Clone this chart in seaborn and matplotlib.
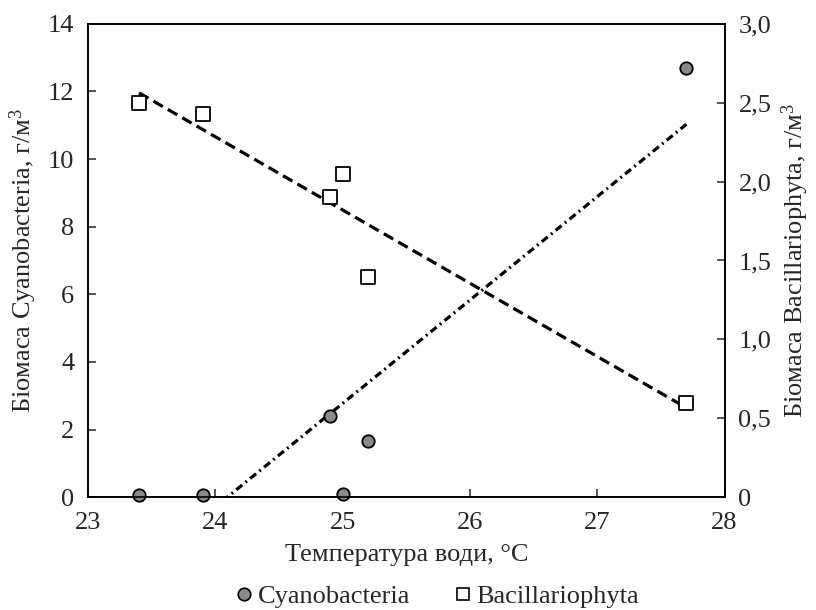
import matplotlib
matplotlib.use("Agg")
import matplotlib.pyplot as plt
import seaborn as sns
import numpy as np
import pandas as pd
from matplotlib.lines import Line2D

# Data
temperature = [23.4, 23.9, 24.9, 25.0, 25.2, 27.7]
cyanobacteria = [0.05, 0.05, 2.4, 0.1, 1.65, 12.7]
bacillariophyta = [2.50, 2.43, 1.90, 2.05, 1.395, 0.596]
left_ticks = [0, 2, 4, 6, 8, 10, 12, 14]
right_ticks = [0, 0.5, 1.0, 1.5, 2.0, 2.5, 3.0]
right_tick_labels = ["0", "0,5", "1,0", "1,5", "2,0", "2,5", "3,0"]
x_ticks = [23, 24, 25, 26, 27, 28]

df = pd.DataFrame({"t": temperature, "cy": cyanobacteria, "ba": bacillariophyta})

sns.set_style("ticks")
plt.rcParams["font.family"] = ["Liberation Serif", "DejaVu Serif"]
plt.rcParams["mathtext.fontset"] = "custom"
plt.rcParams["mathtext.rm"] = "Liberation Serif"
plt.rcParams["mathtext.it"] = "Liberation Serif"

FS = 19
fig = plt.figure(figsize=(8.16, 6.10), dpi=100)
ax = fig.add_axes([0.108, 0.185, 0.780, 0.776])
ax2 = ax.twinx()

# regression lines
sns.regplot(data=df, x="t", y="cy", ax=ax, scatter=False, ci=None, truncate=True,
            line_kws=dict(color="black", lw=2.3, ls=(0, (2.4, 1.3, 0.6, 1.3))))
sns.regplot(data=df, x="t", y="ba", ax=ax2, scatter=False, ci=None, truncate=True,
            line_kws=dict(color="black", lw=2.3, ls=(0, (3.4, 1.8))))

# points
sns.scatterplot(data=df, x="t", y="cy", ax=ax, marker="o", s=80, color="#8a8a8a",
                edgecolor="black", linewidth=1.3, clip_on=False, zorder=5, legend=False)
sns.scatterplot(data=df, x="t", y="ba", ax=ax2, marker="s", s=95, color="white",
                edgecolor="black", linewidth=1.3, clip_on=False, zorder=5, legend=False)

ax.set_xlim(23, 28)
ax.set_ylim(0, 14)
ax2.set_ylim(0, 3.0)
ax.set_xticks(x_ticks)
ax.set_xticklabels([str(v) for v in x_ticks], fontsize=FS)
ax.set_yticks(left_ticks)
ax.set_yticklabels([str(v) for v in left_ticks], fontsize=FS)
ax2.set_yticks(right_ticks)
ax2.set_yticklabels(right_tick_labels, fontsize=FS)

ax.tick_params(direction="in", length=6, width=1.1, pad=10)
ax2.tick_params(direction="in", length=6, width=1.1, pad=10)
ax.tick_params(axis="x", pad=11)

for a in (ax, ax2):
    for s in a.spines.values():
        s.set_linewidth(1.2)
        s.set_color("black")

ax.set_xlabel("Температура води, °C", fontsize=FS, labelpad=7)
ax.set_ylabel("Біомаса Cyanobacteria, г/м$^3$", fontsize=FS, labelpad=6)
ax2.set_ylabel("Біомаса Bacillariophyta, г/м$^3$", fontsize=FS, labelpad=6)

handles = [
    Line2D([], [], marker="o", ls="none", markersize=9, markerfacecolor="#8a8a8a",
           markeredgecolor="black", markeredgewidth=1.2),
    Line2D([], [], marker="s", ls="none", markersize=8, markerfacecolor="white",
           markeredgecolor="black", markeredgewidth=1.2),
]
fig.legend(handles, ["Cyanobacteria", "Bacillariophyta"], loc="center",
           bbox_to_anchor=(0.536, 0.022), ncol=2, frameon=False, fontsize=FS,
           handlelength=0.6, handletextpad=0.2, columnspacing=1.7)

fig.savefig("out.png", dpi=100)
